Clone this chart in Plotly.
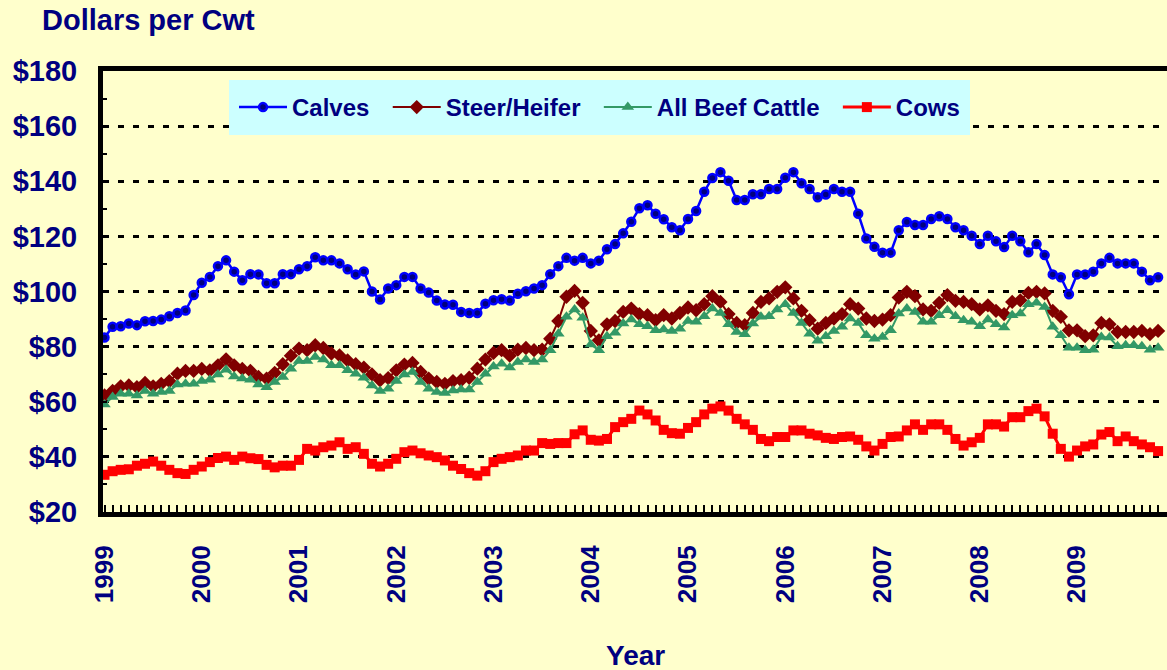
import plotly.graph_objects as go

years = [str(y) for y in range(1999, 2010)]
months = [f"{1999 + i // 12}-{i % 12 + 1:02d}" for i in range(131)]
price_ticks = [20, 40, 60, 80, 100, 120, 140, 160, 180]

calves = [83.3, 87.2, 87.4, 88.4, 87.8, 89.2, 89.3, 89.8, 91.0, 92.2, 93.1, 98.7, 103.2, 105.3, 109.2, 111.3, 107.2, 104.1, 106.3, 106.2, 103.0, 103.0,
          106.3, 106.3, 108.1, 109.2, 112.4, 111.3, 111.3, 110.2, 108.1, 106.2, 107.3, 100.0, 97.1, 101.1, 102.3, 105.3, 105.3, 101.1, 99.6, 96.7, 95.3, 95.2,
          92.6, 92.2, 92.2, 95.6, 96.8, 97.2, 96.7, 99.2, 100.1, 101.1, 102.3, 106.3, 109.2, 112.2, 111.2, 112.2, 110.2, 111.2, 115.3, 117.2, 121.1, 125.3,
          130.2, 131.3, 128.2, 126.2, 123.3, 122.2, 126.3, 129.2, 136.2, 141.2, 143.3, 140.2, 133.2, 133.2, 135.3, 135.3, 137.2, 137.2, 141.3, 143.3, 139.3, 137.2,
          134.2, 135.2, 137.2, 136.2, 136.2, 128.2, 119.2, 116.2, 114.1, 114.1, 122.2, 125.2, 124.1, 124.1, 126.3, 127.3, 126.3, 123.3, 122.2, 120.2, 117.2, 120.2,
          118.2, 116.1, 120.2, 118.2, 114.2, 117.2, 113.2, 106.2, 105.2, 99.0, 106.2, 106.2, 107.2, 110.2, 112.2, 110.2, 110.2, 110.2, 107.2, 104.1, 105.2]

steer_heifer = [62.3, 63.9, 65.6, 65.9, 65.3, 66.8, 65.6, 66.5, 67.5, 70.2, 71.2, 71.2, 71.9, 71.4, 73.2, 75.4, 73.2, 71.9, 71.2, 69.0, 68.4, 70.5,
                73.6, 76.7, 79.3, 78.7, 80.5, 79.5, 77.5, 76.8, 75.0, 73.6, 72.4, 69.9, 67.8, 68.6, 71.4, 73.5, 74.1, 70.8, 68.4, 67.2, 66.5, 67.5,
                67.8, 68.7, 72.0, 75.3, 77.7, 78.7, 76.7, 78.9, 79.5, 78.7, 78.9, 82.9, 89.3, 98.1, 100.2, 95.9, 85.7, 82.3, 88.1, 89.3, 92.6, 93.8,
                91.8, 91.4, 89.6, 91.4, 90.2, 92.2, 94.2, 93.2, 95.4, 98.3, 96.2, 91.8, 88.6, 87.8, 92.2, 96.2, 97.5, 99.9, 101.5, 97.5, 93.0, 89.6,
                86.5, 88.6, 90.2, 91.8, 95.4, 93.8, 90.2, 89.3, 89.8, 91.4, 97.8, 99.9, 98.3, 93.5, 93.0, 95.9, 98.7, 96.6, 96.2, 95.4, 93.5, 95.0,
                93.0, 91.8, 96.2, 96.8, 99.5, 99.9, 99.3, 93.0, 90.8, 85.9, 85.9, 83.8, 84.1, 88.6, 88.1, 85.3, 85.3, 85.3, 85.7, 84.5, 85.7]

all_beef = [59.0, 61.7, 62.9, 62.9, 62.3, 63.9, 62.9, 63.5, 63.9, 66.3, 66.5, 66.5, 67.5, 68.0, 69.9, 71.6, 69.2, 68.4, 68.0, 66.3, 65.3, 67.2,
            69.0, 72.0, 74.8, 74.8, 76.2, 75.3, 73.2, 73.2, 71.4, 70.2, 68.7, 65.9, 63.9, 64.7, 67.5, 69.9, 70.8, 67.2, 64.7, 63.5, 63.2, 64.1,
            64.4, 64.4, 67.2, 70.2, 72.8, 73.8, 72.4, 74.4, 75.3, 74.4, 75.3, 78.7, 84.7, 90.8, 93.5, 90.5, 80.8, 78.7, 83.8, 85.0, 88.4, 89.8,
            88.1, 87.4, 85.9, 86.2, 85.7, 86.5, 89.3, 89.0, 91.0, 93.8, 92.2, 88.1, 85.3, 84.5, 88.4, 90.8, 91.0, 93.5, 95.4, 92.2, 88.6, 84.7,
            82.1, 83.8, 85.7, 87.2, 90.2, 88.6, 84.1, 82.9, 83.5, 85.9, 92.0, 93.8, 92.6, 89.0, 89.0, 91.4, 93.2, 91.0, 89.6, 89.0, 87.4, 89.8,
            88.1, 86.9, 91.4, 92.0, 95.4, 95.9, 94.4, 87.2, 84.1, 79.6, 79.6, 78.7, 78.9, 83.5, 83.3, 80.1, 80.5, 80.5, 80.1, 78.9, 79.6]

cows = [33.5, 34.8, 35.3, 35.5, 36.8, 37.5, 38.3, 36.8, 35.3, 34.1, 33.8, 35.3, 36.5, 38.1, 39.6, 40.1, 38.9, 40.1, 39.5, 39.2, 37.1, 36.2,
        36.8, 36.8, 38.9, 42.9, 42.3, 43.5, 44.1, 45.3, 42.9, 43.5, 41.1, 37.5, 36.5, 37.5, 39.3, 41.7, 42.3, 41.3, 40.5, 39.9, 38.7, 36.8,
        35.6, 34.1, 33.2, 34.8, 38.1, 39.3, 39.9, 40.5, 42.3, 42.3, 45.0, 44.7, 45.0, 45.0, 48.2, 49.6, 46.2, 45.9, 46.5, 50.8, 52.6, 53.8,
        56.8, 55.4, 53.2, 49.8, 48.6, 48.4, 50.5, 52.6, 55.4, 57.5, 58.3, 56.8, 53.8, 51.8, 49.8, 46.5, 45.7, 47.2, 47.2, 49.6, 49.6, 48.4,
        47.8, 46.9, 46.5, 47.2, 47.4, 46.2, 43.8, 42.3, 44.7, 47.2, 47.4, 49.6, 51.8, 49.8, 51.8, 51.8, 49.8, 46.5, 44.1, 45.3, 46.9, 51.8,
        51.8, 51.0, 54.4, 54.4, 56.6, 57.5, 54.7, 48.4, 42.9, 40.1, 42.3, 43.8, 44.5, 48.1, 49.0, 45.7, 47.4, 45.7, 44.5, 43.5, 42.1]

x = list(range(len(months)))
NAVY = "#000080"
FONT = "Liberation Sans, Arial, sans-serif"
PAD = "\u00a0\u00a0"

fig = go.Figure()
fig.add_trace(go.Scatter(x=x, y=calves, name="Calves" + PAD, mode="lines+markers", customdata=months,
                         line=dict(color="#0000FF", width=2.5),
                         marker=dict(symbol="circle", size=8, color=NAVY, line=dict(color="#0000FF", width=2.5))))
fig.add_trace(go.Scatter(x=x, y=steer_heifer, name="Steer/Heifer" + PAD, mode="lines+markers", customdata=months,
                         line=dict(color="#800000", width=2),
                         marker=dict(symbol="diamond", size=11, color="#800000")))
fig.add_trace(go.Scatter(x=x, y=all_beef, name="All Beef Cattle" + PAD, mode="lines+markers", customdata=months,
                         line=dict(color="#339966", width=2),
                         marker=dict(symbol="triangle-up", size=11, color="#339966")))
fig.add_trace(go.Scatter(x=x, y=cows, name="Cows", mode="lines+markers", customdata=months,
                         line=dict(color="#FF0000", width=3),
                         marker=dict(symbol="square", size=10, color="#FF0000")))

fig.update_layout(
    width=1167, height=670,
    margin=dict(l=103, r=0, t=71, b=158),
    paper_bgcolor="#FFFFCC", plot_bgcolor="#FFFFCC",
    font=dict(family=FONT, color=NAVY),
    showlegend=True,
    legend=dict(orientation="h", x=(229 - 103) / 1064, y=(512 - 80) / 441, xanchor="left", yanchor="top",
                bgcolor="#CCFFFF", font=dict(size=24, color=NAVY, family=FONT, weight="bold"),
                itemwidth=48, borderwidth=5, bordercolor="#CCFFFF"),
    xaxis=dict(range=[-0.185, 131.1], tickmode="array",
               tickvals=[i * 12 for i in range(len(years))], ticktext=years,
               tickangle=-90, tickfont=dict(size=26, color=NAVY, family=FONT, weight="bold"),
               showgrid=False, zeroline=False,
               showline=True, linecolor="black", linewidth=5, mirror=True,
               ticks="inside", ticklen=7, tickwidth=1.5, tickcolor="black",
               minor=dict(dtick=1, tick0=0, ticks="inside", ticklen=7, tickwidth=1.5, tickcolor="black", showgrid=False),
               ticklabelstandoff=18),
    yaxis=dict(range=[20, 180], tickmode="array", tickvals=price_ticks,
               ticktext=["$" + str(v) for v in price_ticks],
               tickfont=dict(size=29, color=NAVY, family=FONT, weight="bold"),
               showgrid=True, gridcolor="black", gridwidth=2.5, griddash="6px,9px",
               zeroline=False, showline=True, linecolor="black", linewidth=5, mirror=False,
               ticks="inside", ticklen=4, tickwidth=2, tickcolor="black",
               minor=dict(dtick=10, tick0=20, ticks="inside", ticklen=4, tickwidth=2, tickcolor="black", showgrid=False),
               ticklabelstandoff=15),
    annotations=[
        dict(text="Dollars per Cwt", xref="paper", yref="paper", x=(40 - 103) / 1064, y=(512 - 20) / 441,
             xanchor="left", yanchor="middle", showarrow=False,
             font=dict(size=29, color=NAVY, family=FONT, weight="bold")),
        dict(text="Year", xref="paper", yref="paper", x=(635 - 103) / 1064, y=(512 - 655) / 441,
             xanchor="center", yanchor="middle", showarrow=False,
             font=dict(size=28, color=NAVY, family=FONT, weight="bold")),
    ],
)

fig.write_html("out.html", config={"displayModeBar": False},
               post_script="document.body.style.margin='0';document.body.style.overflow='hidden';")
